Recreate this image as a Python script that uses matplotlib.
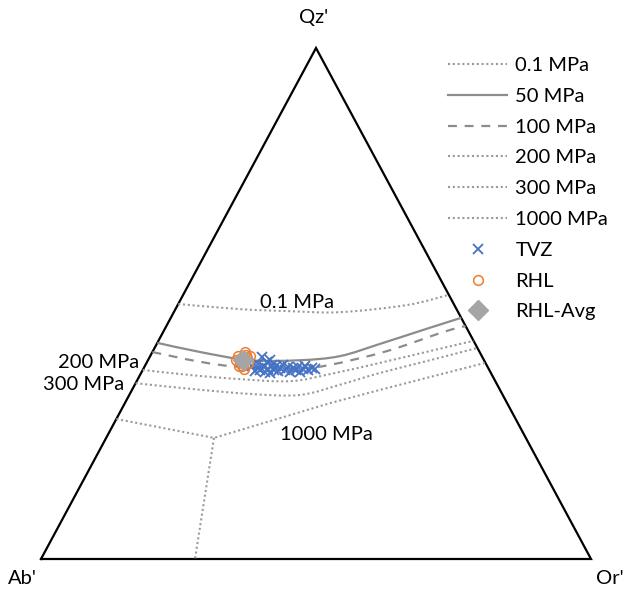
import numpy as np
import matplotlib
matplotlib.use("Agg")
import matplotlib.pyplot as plt
from matplotlib.path import Path
from matplotlib.patches import PathPatch
from matplotlib.lines import Line2D

plt.rcParams['font.family'] = ['Lato', 'DejaVu Sans']

# Isobars (minimum / eutectic curves) in normative Qz'-Ab'-Or' (wt %); Ab' = 100 - Qz - Or
qz_01 = [49.9, 48.9, 48.5, 48.3, 49.7, 51.7]
or_01 = [0.0, 11.7, 21.0, 30.2, 41.7, 48.3]

qz_50 = [42.3, 40.5, 38.9, 38.9, 39.7, 42.1, 44.8, 47.2]
or_50 = [0.0, 8.7, 18.5, 27.6, 34.5, 40.6, 47.0, 52.8]

qz_100 = [40.5, 38.6, 37.6, 37.4, 38.0, 40.7, 44.4, 45.6]
or_100 = [0.0, 9.6, 17.4, 28.4, 33.6, 42.6, 50.9, 54.4]

qz_200 = [37.0, 36.0, 35.2, 34.8, 36.2, 38.4, 40.7, 42.7]
or_200 = [0.0, 9.1, 18.6, 27.9, 34.5, 42.5, 50.4, 57.3]

qz_300 = [34.4, 33.3, 32.3, 32.1, 34.1, 36.4, 38.9, 41.3]
or_300 = [0.0, 10.5, 21.9, 31.0, 37.3, 43.4, 51.3, 58.7]

qz_1000 = [27.4, 23.7, 30.5, 33.1, 38.4]
or_1000 = [0.0, 19.6, 37.3, 45.1, 61.6]
# plagioclase/alkali feldspar field boundary at 1000 MPa
qz_1000b = [23.7, 0.0]
or_1000b = [19.6, 28.0]

# TVZ rhyolites
tvz_qz = [37.8, 36.8, 38.2, 37.0, 39.5, 37.6, 36.6, 38.6, 37.2, 36.4,
          38.0, 37.0, 37.8, 36.8, 37.4, 38.0, 37.0, 37.6, 36.6, 37.4,
          37.0, 37.6, 36.6, 37.2, 37.8, 37.0, 37.4, 37.2, 38.9, 37.4]
tvz_or = [19.5, 20.5, 20.4, 21.3, 20.4, 21.8, 22.4, 21.8, 22.7, 23.4,
          23.0, 23.9, 23.8, 24.7, 24.8, 25.0, 25.9, 26.1, 27.0, 27.1,
          27.9, 27.9, 28.8, 29.1, 29.1, 30.1, 30.6, 31.2, 22.2, 20.8]

# RHL samples
rhl_qz = [39.7, 38.6, 37.8, 40.5, 39.3, 38.9, 37.2, 38.4, 37.8, 39.7, 39.9, 39.3]
rhl_or = [16.0, 16.9, 17.7, 16.8, 17.8, 16.0, 18.3, 18.5, 17.1, 18.1, 17.3, 16.7]

# RHL average
avg_qz = [38.9]
avg_or = [17.3]

H = np.sqrt(3) / 2


def tern(qz, orr):
    qz = np.asarray(qz) / 100.0
    orr = np.asarray(orr) / 100.0
    return orr + qz / 2, qz * H


def smooth_path(qz, orr):
    # bezier through the points, like a spreadsheet "smoothed line"
    x, y = tern(qz, orr)
    p = np.column_stack([x, y])
    n = len(p)
    verts = [p[0]]
    codes = [Path.MOVETO]
    for i in range(n - 1):
        p0 = p[max(i - 1, 0)]
        p3 = p[min(i + 2, n - 1)]
        c1 = p[i] + (p[i + 1] - p0) / 6
        c2 = p[i + 1] - (p3 - p[i]) / 6
        verts += [c1, c2, p[i + 1]]
        codes += [Path.CURVE4] * 3
    return Path(verts, codes)


W, HT = 623, 589
fig = plt.figure(figsize=(W / 100, HT / 100), dpi=100)
ax = fig.add_axes([41 / W, 30 / HT, 550 / W, 511 / HT])
ax.set_xlim(0, 1)
ax.set_ylim(0, H)
ax.axis('off')


def px(x, y):
    return x / W, 1 - y / HT


# triangle
ax.plot([0, 1, 0.5, 0], [0, 0, H, 0], color='black', lw=1.6, zorder=1,
        solid_joinstyle='miter', clip_on=False)

dot = dict(color='#9a9a9a', lw=1.5, ls=(0, (1, 1.3)))
solid = dict(color='#8c8c8c', lw=1.6, ls='-')
dash = dict(color='#8c8c8c', lw=1.6, ls=(0, (4, 3.5)))

curves = [
    (qz_01, or_01, dot, '0.1 MPa'),
    (qz_50, or_50, solid, '50 MPa'),
    (qz_100, or_100, dash, '100 MPa'),
    (qz_200, or_200, dot, '200 MPa'),
    (qz_300, or_300, dot, '300 MPa'),
]
handles = []
for qz, orr, st, lab in curves:
    ax.add_patch(PathPatch(smooth_path(qz, orr), fill=False, edgecolor=st['color'],
                           lw=st['lw'], linestyle=st['ls'], zorder=2))
    handles.append(Line2D([], [], color=st['color'], lw=st['lw'], ls=st['ls'], label=lab))
# 1000 MPa has a sharp junction, so straight segments
handles += ax.plot(*tern(qz_1000, or_1000), zorder=2, label='1000 MPa', **dot)
ax.plot(*tern(qz_1000b, or_1000b), zorder=2, **dot)

handles += ax.plot(*tern(tvz_qz, tvz_or), ls='none', marker='x', ms=7.5, mew=1.3,
                   color='#4472C4', label='TVZ', zorder=3)
handles += ax.plot(*tern(rhl_qz, rhl_or), ls='none', marker='o', ms=7, mew=1.1,
                   mfc='none', color='#ED7D31', label='RHL', zorder=4)
handles += ax.plot(*tern(avg_qz, avg_or), ls='none', marker='D', ms=10,
                   color='#A5A5A5', label='RHL-Avg', zorder=5)

fs = 14.5
fig.text(*px(314, 18), "Qz'", fontsize=fs, ha='center', va='center')
fig.text(*px(22, 579), "Ab'", fontsize=fs, ha='center', va='center')
fig.text(*px(610, 578), "Or'", fontsize=fs, ha='center', va='center')
fig.text(*px(297, 303), '0.1 MPa', fontsize=fs, ha='center', va='center')
fig.text(*px(326, 434), '1000 MPa', fontsize=fs, ha='center', va='center')
fig.text(*px(139, 363), '200 MPa', fontsize=fs, ha='right', va='center')
fig.text(*px(124, 385), '300 MPa', fontsize=fs, ha='right', va='center')

fig.legend(handles=handles, loc='upper left', bbox_to_anchor=px(448, 57), frameon=False,
           fontsize=fs, borderpad=0, borderaxespad=0, handlelength=2.95,
           handletextpad=0.4, labelspacing=0.68, numpoints=1)

fig.savefig('out.png', dpi=100)
